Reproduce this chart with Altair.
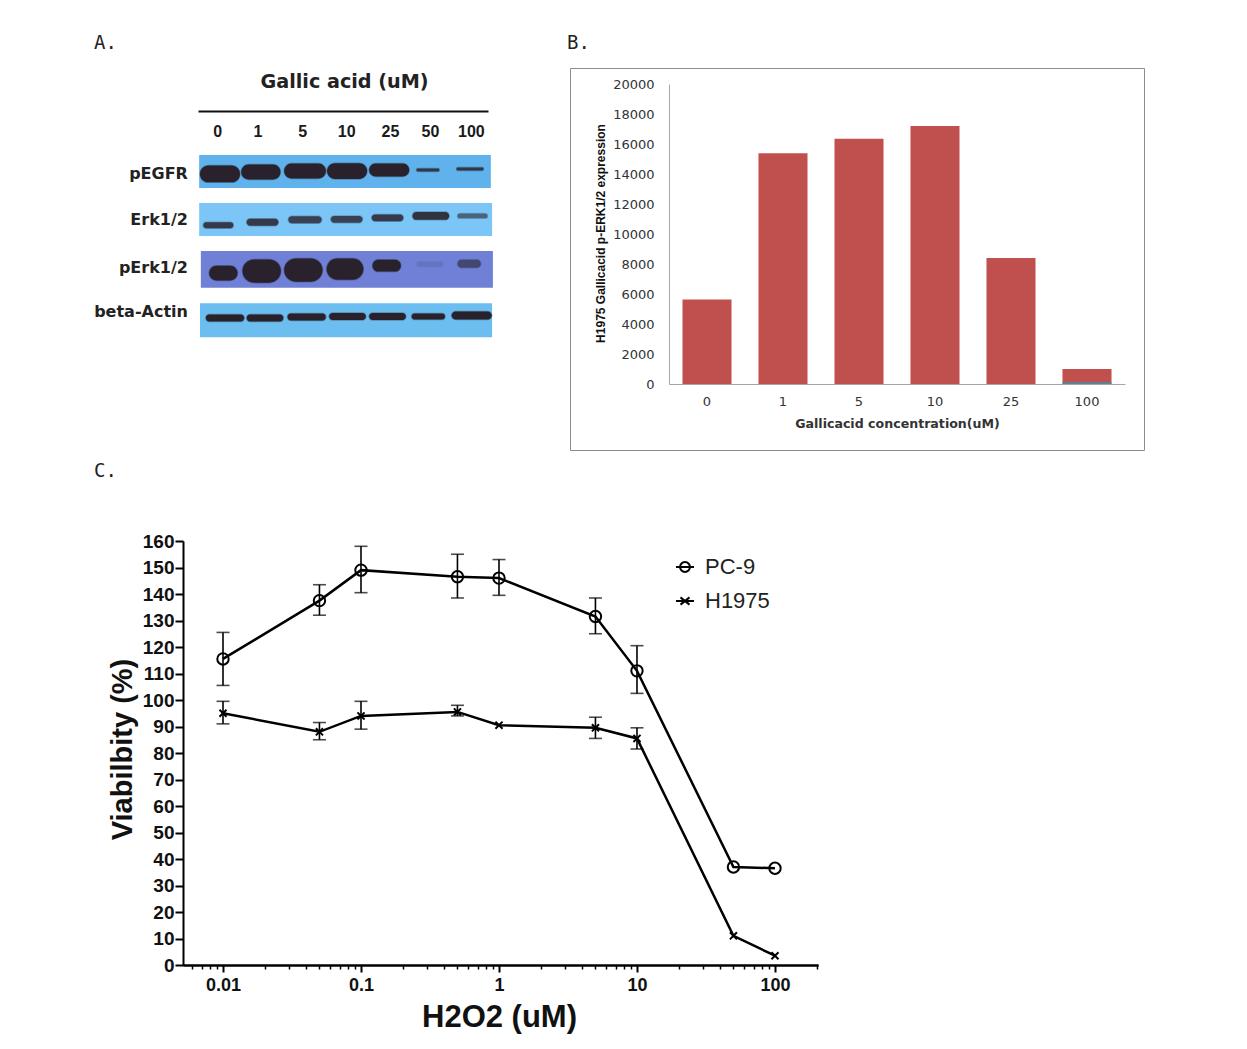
import json
import altair as alt
import pandas as pd

# ---------- Panel A: blot readings ----------
lane_labels = ["0", "1", "5", "10", "25", "50", "100"]
lane_ticks = [-0.07, 0.9, 1.97, 3.03, 4.08, 5.04, 6.02]
rows = ["pEGFR", "Erk1/2", "pErk1/2", "beta-Actin"]
row_label_pos = [0.04, 0.97, 1.95, 2.84]
strip_left = [-0.50, -0.50, -0.46, -0.48]
strip_right = [6.50, 6.53, 6.55, 6.53]
strip_top = [-0.345, 0.63, 1.60, 2.66]
strip_bottom = [0.325, 1.30, 2.35, 3.35]
strip_colors = ["#5fb2ec", "#7cc6f7", "#6f80d6", "#6dbef0"]

band_center = {
    "pEGFR": [0.0, 0.98, 2.04, 3.05, 4.06, 4.99, 6.0],
    "Erk1/2": [-0.04, 1.02, 2.04, 3.04, 4.02, 5.06, 6.06],
    "pErk1/2": [0.08, 1.0, 2.0, 3.0, 4.0, 5.04, 5.98],
    "beta-Actin": [0.12, 1.08, 2.08, 3.06, 4.02, 5.0, 6.04],
}
band_width = {
    "pEGFR": [0.96, 0.94, 1.0, 0.96, 0.96, 0.55, 0.65],
    "Erk1/2": [0.72, 0.76, 0.8, 0.76, 0.76, 0.88, 0.72],
    "pErk1/2": [0.68, 0.92, 0.92, 0.88, 0.68, 0.64, 0.56],
    "beta-Actin": [0.92, 0.88, 0.92, 0.88, 0.88, 0.8, 0.96],
}
band_row = {
    "pEGFR": [0.04, 0.0, -0.02, -0.02, -0.04, -0.04, -0.06],
    "Erk1/2": [1.08, 1.02, 0.97, 0.96, 0.93, 0.89, 0.89],
    "pErk1/2": [2.05, 2.01, 1.99, 1.97, 1.90, 1.87, 1.86],
    "beta-Actin": [2.96, 2.96, 2.94, 2.93, 2.93, 2.93, 2.91],
}
band_thick = {
    "pEGFR": [0.34, 0.30, 0.30, 0.32, 0.26, 0.06, 0.06],
    "Erk1/2": [0.12, 0.14, 0.14, 0.14, 0.14, 0.16, 0.10],
    "pErk1/2": [0.30, 0.47, 0.47, 0.43, 0.24, 0.10, 0.16],
    "beta-Actin": [0.14, 0.14, 0.14, 0.14, 0.14, 0.12, 0.16],
}
band_intensity = {
    "pEGFR": [1, 1, 1, 1, 1, 0.85, 0.85],
    "Erk1/2": [0.85, 0.85, 0.8, 0.8, 0.85, 0.9, 0.6],
    "pErk1/2": [1, 1, 1, 1, 1, 0.12, 0.6],
    "beta-Actin": [1, 1, 1, 1, 1, 1, 1],
}

# ---------- Panel B ----------
b_categories = ["0", "1", "5", "10", "25", "100"]
b_values = [5640, 15380, 16350, 17200, 8400, 1000]
b_second = [0, 0, 0, 0, 0, 100]

# ---------- Panel C ----------
c_dose = [0.01, 0.05, 0.1, 0.5, 1, 5, 10, 50, 100]
pc9_mean = [115.5, 137.5, 149, 146.5, 146, 131.5, 111, 37, 36.5]
pc9_high = [125.5, 143.5, 158, 155, 153, 138.5, 120.5, None, None]
pc9_low = [105.5, 132, 140.5, 138.5, 139.5, 125, 102.5, None, None]
h1975_mean = [95, 88, 94, 95.5, 90.5, 89.5, 85.5, 11, 3.5]
h1975_high = [99.5, 91.5, 99.5, 98, None, 93.5, 89.5, None, None]
h1975_low = [91, 85, 89, 94, None, 85.5, 81.5, None, None]
major_ticks = [0.01, 0.1, 1, 10, 100]
minor_ticks = [0.006, 0.007, 0.008, 0.009, 0.02, 0.03, 0.04, 0.05, 0.06, 0.07, 0.08, 0.09,
               0.2, 0.3, 0.4, 0.5, 0.6, 0.7, 0.8, 0.9, 2, 3, 4, 5, 6, 7, 8, 9,
               20, 30, 40, 50, 60, 70, 80, 90, 200]

PANEL_FONT = "DejaVu Sans Mono"


def panel_title(text, dx, offset):
    return alt.TitleParams(text, anchor="start", frame="group", dx=dx, offset=offset,
                           font=PANEL_FONT, fontSize=19, fontWeight="normal", color="#222222")


# ---------- Panel A chart ----------
strips = pd.DataFrame({"row": rows, "x0": strip_left, "x1": strip_right,
                       "y0": strip_top, "y1": strip_bottom, "label_y": row_label_pos})
band_rows = []
for r in rows:
    for c, w, y, t, i in zip(band_center[r], band_width[r], band_row[r], band_thick[r], band_intensity[r]):
        band_rows.append({"row": r, "x0": c - w / 2, "x1": c + w / 2,
                          "y0": y - t / 2, "y1": y + t / 2, "intensity": i})
bands = pd.DataFrame(band_rows)

a_x = alt.Scale(domain=[-0.528, 6.432], range=[108, 398], nice=False, zero=False)
a_y = alt.Scale(domain=[0, 3], range=[104, 251.9], nice=False, zero=False)
a_axis = alt.Axis(
    values=lane_ticks, orient="bottom", offset=-339, ticks=False, grid=False,
    domainColor="#111111", domainWidth=2,
    labelExpr="%s[round(datum.value)]" % json.dumps(lane_labels),
    labelFont="Liberation Sans", labelFontWeight="bold", labelFontSize=16, labelColor="#1a1a1a",
    labelPadding=12, labelOverlap=False, labelFlush=False,
    title="Gallic acid (uM)", titleFont="DejaVu Sans", titleFontWeight="bold", titleFontSize=19.2,
    titleColor="#222222", titleX=254, titleY=-30, titleBaseline="middle",
)
a_strip = alt.Chart(strips).mark_rect().encode(
    x=alt.X("x0:Q", scale=a_x, axis=a_axis),
    x2="x1:Q",
    y=alt.Y("y0:Q", scale=a_y, axis=None),
    y2="y1:Q",
    color=alt.Color("row:N", scale=alt.Scale(domain=rows, range=strip_colors), legend=None),
)
a_band = alt.Chart(bands).mark_rect(
    cornerRadius=30, color="#29222c", stroke="#29222c", strokeWidth=1.5, strokeOpacity=0.35
).encode(
    x=alt.X("x0:Q", scale=a_x, axis=None),
    x2="x1:Q",
    y=alt.Y("y0:Q", scale=a_y, axis=None),
    y2="y1:Q",
    opacity=alt.Opacity("intensity:Q", scale=None, legend=None),
)
a_text = alt.Chart(strips).transform_calculate(lx="-0.77").mark_text(
    align="right", baseline="middle", font="DejaVu Sans", fontWeight="bold", fontSize=16, color="#222222"
).encode(
    x=alt.X("lx:Q", scale=a_x, axis=None),
    y=alt.Y("label_y:Q", scale=a_y, axis=None),
    text="row:N",
)
panel_a = alt.layer(a_strip, a_band, a_text).resolve_axis(x="independent", y="independent").properties(
    width=470, height=382, title=panel_title("A.", 4, 15)
)

# ---------- Panel B chart ----------
b_df = pd.DataFrame({"cat": b_categories, "value": b_values, "second": b_second})
b_x = alt.Scale(domain=b_categories, range=[99, 555], paddingInner=0.355, paddingOuter=0.1775)
b_y = alt.Scale(domain=[0, 20000], range=[316, 16], nice=False)
b_bar = alt.Chart(b_df).mark_bar(color="#c0504d").encode(
    x=alt.X("cat:N", scale=b_x, sort=b_categories, axis=alt.Axis(
        orient="bottom", offset=-66, ticks=False, grid=False, labelAngle=0,
        domainColor="#a6a6a6", domainWidth=1,
        labelFont="DejaVu Sans", labelFontSize=13, labelColor="#333333", labelPadding=11,
        title="Gallicacid concentration(uM)", titleFont="DejaVu Sans", titleFontWeight="bold",
        titleFontSize=12.6, titleColor="#333333", titleX=327, titleY=39, titleBaseline="middle",
    )),
    y=alt.Y("value:Q", scale=b_y, axis=alt.Axis(
        orient="left", offset=-99, values=list(range(0, 20001, 2000)), ticks=False, grid=False,
        format="d", domainColor="#a6a6a6", domainWidth=1,
        labelFont="DejaVu Sans", labelFontSize=13, labelColor="#333333", labelPadding=15, labelOverlap=False,
        title="H1975 Gallicacid   p-ERK1/2 expression", titleFont="Liberation Sans", titleFontWeight="bold",
        titleFontSize=12, titleColor="#111111", titleX=-69, titleY=165, titleBaseline="middle",
    )),
)
b_sliver = alt.Chart(b_df).mark_bar(color="#3f8fa5").encode(
    x=alt.X("cat:N", scale=b_x, sort=b_categories, axis=None),
    y=alt.Y("second:Q", scale=b_y, axis=None),
)
panel_b = alt.layer(b_bar, b_sliver).resolve_axis(x="independent", y="independent").properties(
    width=574, height=382, title=panel_title("B.", -3, 15),
    view=alt.ViewBackground(stroke="#8c8c8c", strokeWidth=1),
)

# ---------- Panel C chart ----------
c_df = pd.DataFrame({
    "dose": c_dose * 2,
    "mean": pc9_mean + h1975_mean,
    "high": pc9_high + h1975_high,
    "low": pc9_low + h1975_low,
    "series": ["PC-9"] * 9 + ["H1975"] * 9,
})
c_err = c_df.dropna()
c_x = alt.Scale(type="log", domain=[0.00513, 205], range=[93, 728], nice=False)
c_y = alt.Scale(domain=[0, 160], range=[475, 51], nice=False)

x_none = alt.X("dose:Q", scale=c_x, axis=None)
y_none = alt.Y("mean:Q", scale=c_y, axis=None)

c_line = alt.Chart(c_df).mark_line(color="black", strokeWidth=2.5).encode(
    x=alt.X("dose:Q", scale=c_x, axis=alt.Axis(
        orient="bottom", offset=-75, values=major_ticks, grid=False, format="~g",
        domainColor="black", domainWidth=2, tickColor="black", tickWidth=2, tickSize=7,
        labelFont="Liberation Sans", labelFontWeight="bold", labelFontSize=18, labelColor="#111111",
        labelPadding=4, labelOverlap=False, labelFlush=False,
        title="H2O2 (uM)", titleFont="Liberation Sans", titleFontWeight="bold", titleFontSize=31,
        titleColor="#111111", titleX=409, titleY=52, titleBaseline="middle",
    )),
    y=alt.Y("mean:Q", scale=c_y, axis=alt.Axis(
        orient="left", offset=-93, values=list(range(0, 161, 10)), grid=False,
        domainColor="black", domainWidth=2, tickColor="black", tickWidth=2, tickSize=8,
        labelFont="Liberation Sans", labelFontWeight="bold", labelFontSize=19, labelColor="#111111",
        labelPadding=1, labelOverlap=False, labelFlush=False,
        title="Viabilbity (%)", titleFont="Liberation Sans", titleFontWeight="bold", titleFontSize=29,
        titleColor="#111111", titleX=-61, titleY=259, titleBaseline="middle",
    )),
    detail="series:N",
)
c_minor = alt.Chart(c_df).mark_line(opacity=0).encode(
    x=alt.X("dose:Q", scale=c_x, axis=alt.Axis(
        orient="bottom", offset=-75, values=minor_ticks, grid=False, labels=False, title=None,
        domainColor="black", domainWidth=2, tickColor="black", tickWidth=1.5, tickSize=4,
    )),
    y=y_none,
    detail="series:N",
)
c_errbar = alt.Chart(c_err).mark_errorbar(
    ticks={"size": 13, "color": "black", "thickness": 1.6},
    rule={"color": "black", "strokeWidth": 1.6},
).encode(
    x=x_none,
    y=alt.Y("low:Q", scale=c_y, axis=None, title=None),
    y2="high:Q",
    detail="series:N",
)
c_circle = alt.Chart(c_df[c_df.series == "PC-9"]).mark_point(
    shape="circle", size=130, filled=False, stroke="black", strokeWidth=2, opacity=1
).encode(x=x_none, y=y_none)
c_cross = alt.Chart(c_df[c_df.series == "H1975"]).mark_point(
    shape="M-1,-1L1,1M-1,1L1,-1", size=50, filled=False, stroke="black", strokeWidth=2, opacity=1
).encode(x=x_none, y=y_none)
c_legend = alt.Chart(c_df).mark_point(filled=False, opacity=0).encode(
    x=x_none, y=y_none,
    shape=alt.Shape("series:N", scale=alt.Scale(
        domain=["PC-9", "H1975"],
        range=["M-1,0H1M0.55,0A0.55,0.55 0 1 1 -0.55,0A0.55,0.55 0 1 1 0.55,0Z",
               "M-1,0H1M-0.5,-0.4L0.5,0.4M-0.5,0.4L0.5,-0.4"],
    ), legend=alt.Legend(
        orient="none", legendX=584, legendY=488, title=None,
        symbolSize=324, symbolStrokeColor="black", symbolFillColor="transparent",
        symbolStrokeWidth=2, symbolOpacity=1,
        labelFont="Liberation Sans", labelFontSize=22, labelColor="#222222", labelOffset=9,
        rowPadding=12,
    )),
)
panel_c = alt.layer(c_line, c_minor, c_errbar, c_circle, c_cross, c_legend).resolve_axis(
    x="independent", y="independent"
).properties(width=470, height=550, title=panel_title("C.", 4, 9))

chart = alt.concat(
    panel_a, panel_b, panel_c, columns=2, bounds="flush",
    spacing=alt.RowColnumber(row=40, column=10),
).properties(
    padding={"left": 82, "top": 25, "right": 0, "bottom": 0}, background="white"
).configure_view(stroke=None)

chart.save("out.html", embed_options={"renderer": "svg", "actions": False})
